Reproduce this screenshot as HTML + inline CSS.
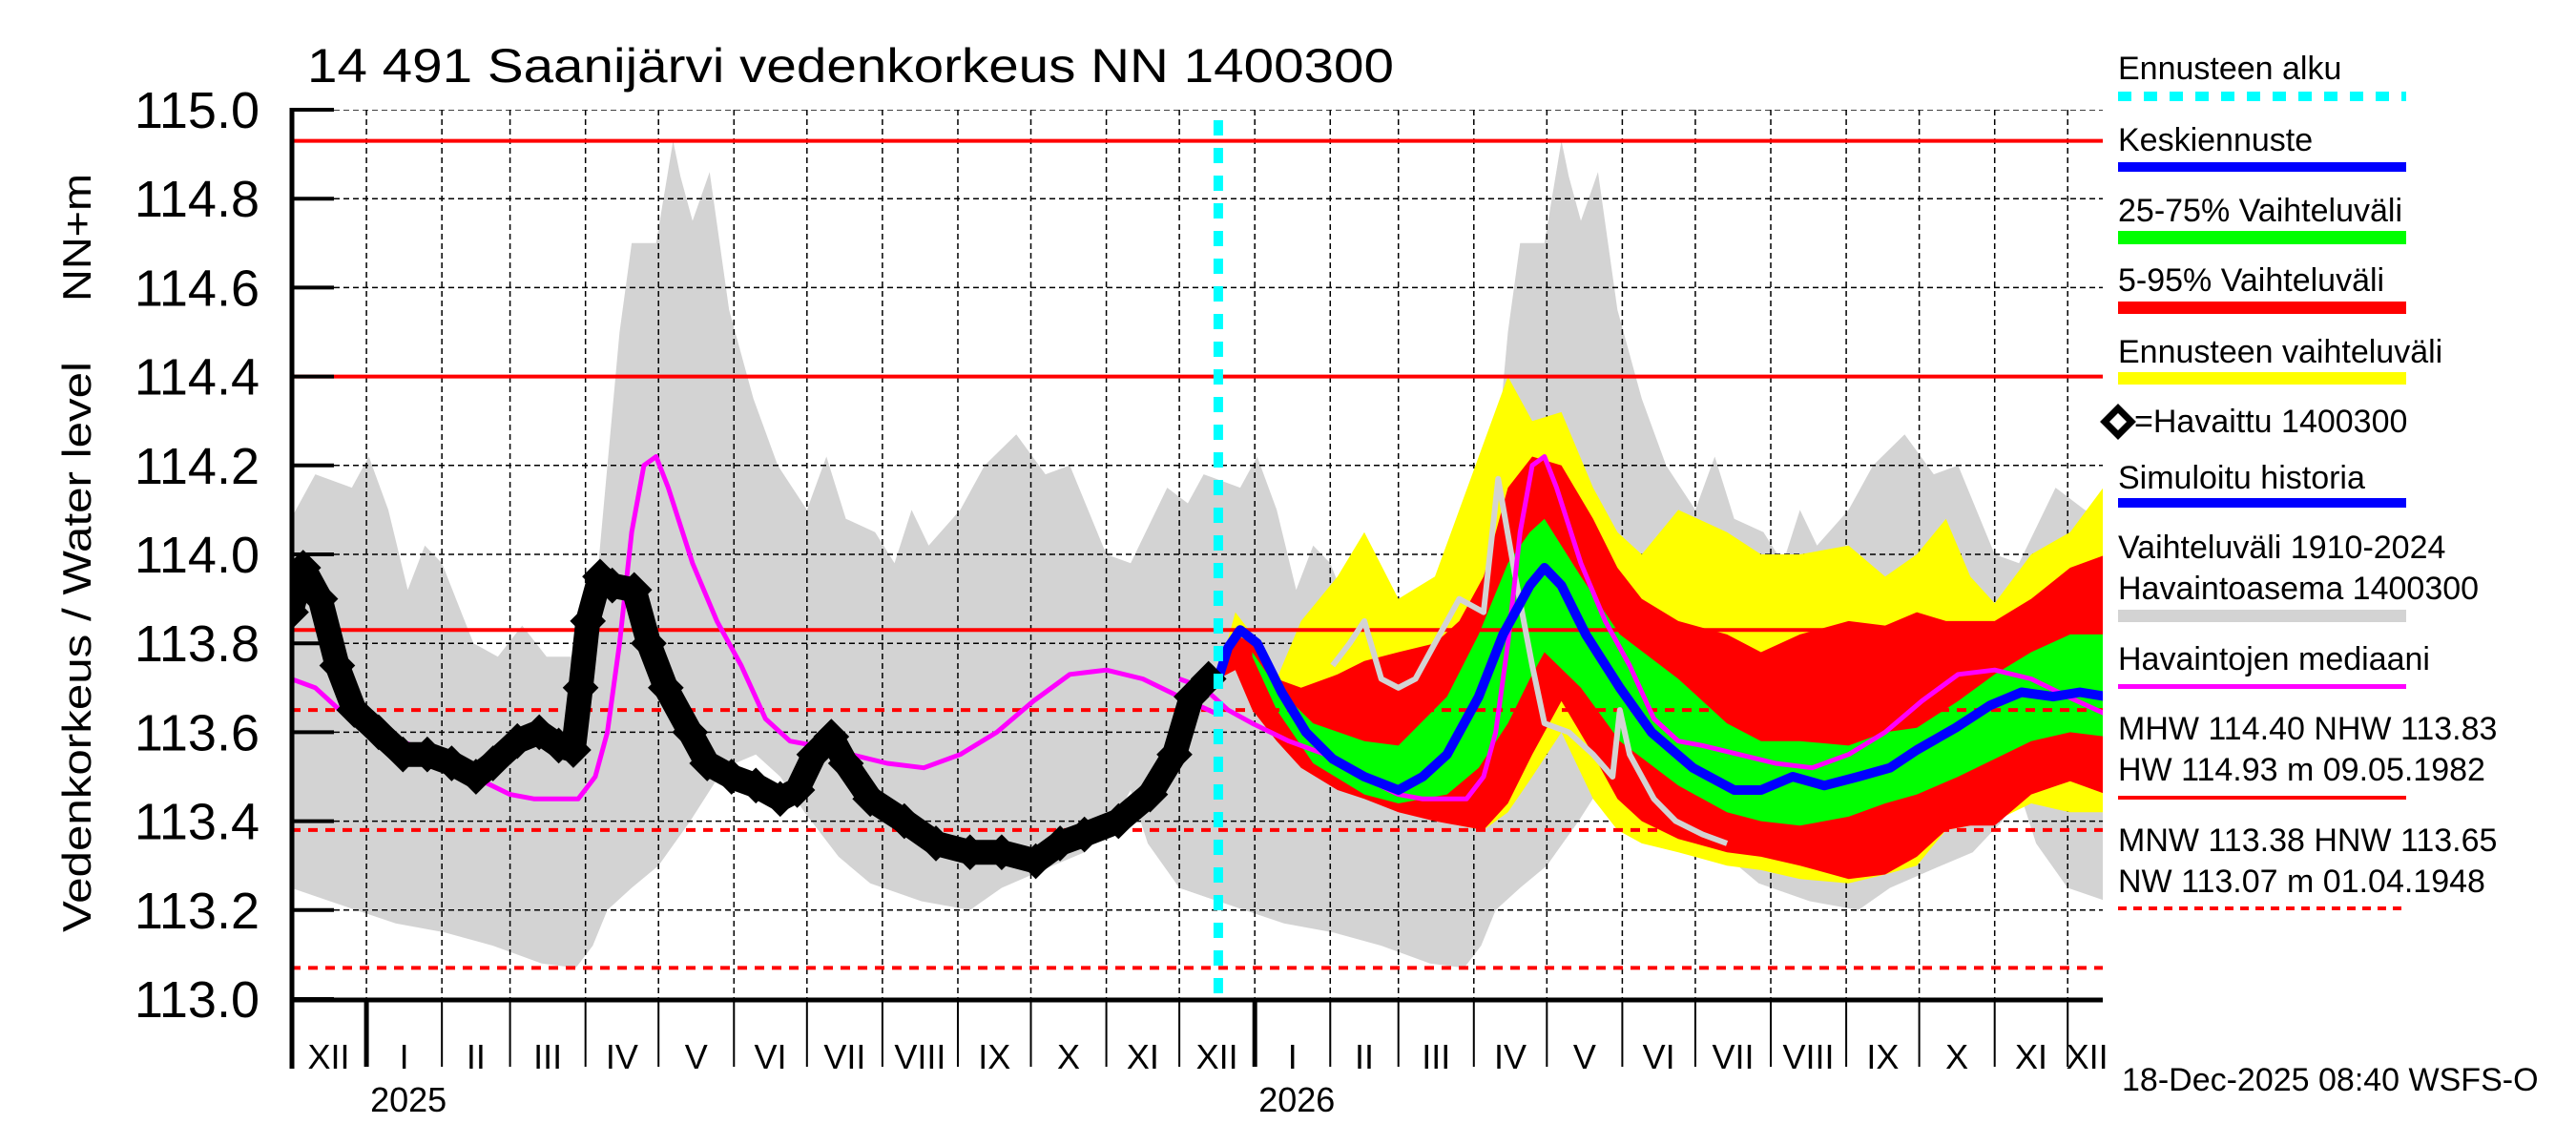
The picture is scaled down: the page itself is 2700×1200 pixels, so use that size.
<!DOCTYPE html>
<html><head><meta charset="utf-8"><title>Saanijärvi vedenkorkeus</title>
<style>html,body{margin:0;padding:0;background:#fff}svg{display:block}text{font-family:"Liberation Sans",sans-serif;fill:#000}</style>
</head><body>
<svg id="chart" xmlns="http://www.w3.org/2000/svg" width="2700" height="1200" viewBox="0 0 2700 1200">
<defs><clipPath id="plotclip"><rect x="305" y="115" width="1899" height="933"/></clipPath></defs>
<g id="plot" clip-path="url(#plotclip)"></g>
<g id="axes"></g>
<text x="322" y="86" font-size="50" textLength="1139" lengthAdjust="spacingAndGlyphs">14 491 Saanijärvi vedenkorkeus NN 1400300</text>
<text transform="translate(95,678) rotate(-90)" text-anchor="middle" font-size="42" textLength="598" lengthAdjust="spacingAndGlyphs">Vedenkorkeus / Water level</text>
<text transform="translate(95,249) rotate(-90)" text-anchor="middle" font-size="42" textLength="134" lengthAdjust="spacingAndGlyphs">NN+m</text>
<g font-size="34">
<text x="2220" y="83">Ennusteen alku</text>
<line x1="2220" y1="101" x2="2522" y2="101" stroke="#00ffff" stroke-width="10" stroke-dasharray="14,13"/>
<text x="2220" y="158">Keskiennuste</text>
<rect x="2220" y="170" width="302" height="10" fill="#0000ff"/>
<text x="2220" y="232">25-75% Vaihteluväli</text>
<rect x="2220" y="242" width="302" height="14" fill="#00ff00"/>
<text x="2220" y="305">5-95% Vaihteluväli</text>
<rect x="2220" y="316" width="302" height="13" fill="#ff0000"/>
<text x="2220" y="380">Ennusteen vaihteluväli</text>
<rect x="2220" y="390" width="302" height="13" fill="#ffff00"/>
<path d="M2220 428 L2234 442 L2220 456 L2206 442 Z" fill="#fff" stroke="#000" stroke-width="7"/>
<text x="2237" y="453">=Havaittu 1400300</text>
<text x="2220" y="512">Simuloitu historia</text>
<rect x="2220" y="522" width="302" height="10" fill="#0000ff"/>
<text x="2220" y="585">Vaihteluväli 1910-2024</text>
<text x="2220" y="628">Havaintoasema 1400300</text>
<rect x="2220" y="639" width="302" height="13" fill="#d3d3d3"/>
<text x="2220" y="702">Havaintojen mediaani</text>
<rect x="2220" y="717" width="302" height="5" fill="#ff00ff"/>
<text x="2220" y="775">MHW 114.40 NHW 113.83</text>
<text x="2220" y="818">HW 114.93 m 09.05.1982</text>
<rect x="2220" y="834" width="302" height="4" fill="#ff0000"/>
<text x="2220" y="892">MNW 113.38 HNW 113.65</text>
<text x="2220" y="935">NW 113.07 m 01.04.1948</text>
<line x1="2220" y1="952" x2="2522" y2="952" stroke="#ff0000" stroke-width="4" stroke-dasharray="9,7"/>
</g>
<text x="2224" y="1143" font-size="34">18-Dec-2025 08:40 WSFS-O</text>
</svg>
<script>
// climatology (days from 1 Dec, repeated each year)
const climMaxDays=[0,10,25,32,40,48,55,62,75,85,95,105,115,125,135,140,150,157,160,165,172,180,190,200,212,220,228,240,248,255,262,275,285,298,310,320,335,345,360,372,381];
const climMax=[114.08,114.18,114.15,114.22,114.1,113.92,114.02,113.98,113.8,113.77,113.84,113.77,113.77,113.9,114.5,114.7,114.7,114.93,114.85,114.75,114.86,114.55,114.35,114.2,114.1,114.22,114.08,114.05,113.98,114.1,114.02,114.1,114.2,114.27,114.18,114.2,114.0,113.98,114.15,114.1,114.08];
const climMinDays=[0,16,43,63,83,103,117,124,130,140,151,164,178,191,201,211,225,238,259,279,292,313,326,338,345,352,365,381];
const climMin=[113.25,113.22,113.17,113.15,113.12,113.08,113.07,113.12,113.2,113.25,113.3,113.4,113.52,113.55,113.5,113.42,113.32,113.26,113.22,113.2,113.25,113.3,113.33,113.4,113.47,113.35,113.25,113.22];
const medDays=[0,10,20,30,45,60,75,90,100,110,118,125,130,135,140,145,150,155,165,175,185,195,205,215,230,245,260,275,290,305,320,335,350,365,381];
const medVals=[113.72,113.7,113.65,113.62,113.58,113.55,113.5,113.46,113.45,113.45,113.45,113.5,113.6,113.8,114.05,114.2,114.22,114.15,113.98,113.85,113.75,113.63,113.58,113.57,113.55,113.53,113.52,113.55,113.6,113.67,113.73,113.74,113.72,113.68,113.64];
const yearOffsets=[0,365];
// observed
const obsDays=[0,5,12,19,26,36,46,56,66,76,83,93,102,110,116,119,122,127,132,141,147,154,164,171,181,191,201,208,215,222,228,238,252,265,279,292,306,316,326,340,353,363,370,377];
const obsVals=[113.87,113.97,113.9,113.75,113.65,113.6,113.55,113.55,113.53,113.5,113.53,113.58,113.6,113.57,113.56,113.7,113.85,113.95,113.93,113.92,113.8,113.7,113.6,113.53,113.5,113.48,113.45,113.47,113.55,113.59,113.53,113.45,113.4,113.35,113.33,113.33,113.31,113.35,113.37,113.4,113.46,113.55,113.68,113.72];
// forecast bands
const bandDays=[381,388,395,405,415,430,441,455,470,480,490,500,510,522,535,545,555,570,590,604,620,640,655,668,680,690,700,715,731,746];
const yelHi=[113.73,113.87,113.82,113.72,113.85,113.95,114.05,113.9,113.95,114.1,114.25,114.4,114.3,114.32,114.15,114.05,114.0,114.1,114.05,114.0,114.0,114.02,113.95,114.0,114.08,113.95,113.89,114.0,114.05,114.16];
const yelLo=[113.72,113.75,113.65,113.6,113.52,113.48,113.46,113.43,113.41,113.39,113.38,113.42,113.5,113.6,113.45,113.38,113.35,113.33,113.3,113.29,113.27,113.26,113.28,113.3,113.38,113.39,113.4,113.44,113.42,113.42];
const redHi=[113.73,113.82,113.8,113.72,113.7,113.73,113.76,113.78,113.8,113.85,113.95,114.15,114.22,114.2,114.08,113.97,113.9,113.85,113.82,113.78,113.82,113.85,113.84,113.87,113.85,113.85,113.85,113.9,113.97,114.0];
const redLo=[113.72,113.74,113.65,113.58,113.52,113.47,113.45,113.42,113.4,113.39,113.38,113.44,113.55,113.67,113.55,113.45,113.4,113.36,113.33,113.32,113.3,113.27,113.28,113.32,113.38,113.39,113.39,113.46,113.49,113.46];
const grnDays=[395,405,420,441,455,475,488,500,509,515,530,546,570,590,604,620,640,655,668,685,700,715,731,746];
const grnHi=[113.78,113.7,113.62,113.58,113.57,113.68,113.82,113.98,114.05,114.08,113.95,113.82,113.72,113.62,113.58,113.58,113.57,113.6,113.61,113.67,113.73,113.78,113.82,113.82];
const grnLo=[113.77,113.65,113.53,113.46,113.44,113.46,113.52,113.62,113.72,113.78,113.7,113.58,113.48,113.42,113.4,113.39,113.41,113.44,113.46,113.5,113.54,113.58,113.6,113.59];
const fcDays=[381,385,390,397,407,417,428,441,455,465,475,488,498,509,515,522,532,546,559,576,593,604,617,630,644,657,668,684,698,711,724,735,746];
const fcVals=[113.72,113.79,113.83,113.8,113.69,113.6,113.54,113.5,113.47,113.5,113.55,113.68,113.82,113.93,113.97,113.93,113.82,113.7,113.6,113.52,113.47,113.47,113.5,113.48,113.5,113.52,113.56,113.61,113.66,113.69,113.68,113.69,113.68];
const simDays=[428,435,441,448,455,462,468,480,490,496,503,510,515,525,535,543,546,550,560,569,580,590];
const simVals=[113.75,113.8,113.85,113.72,113.7,113.72,113.78,113.9,113.87,114.17,113.95,113.75,113.62,113.6,113.55,113.5,113.65,113.55,113.45,113.4,113.37,113.35];
const yTicks=[113.0,113.2,113.4,113.6,113.8,114.0,114.2,114.4,114.6,114.8,115.0];
const refSolid=[114.93,114.40,113.83];
const refDashed=[113.65,113.38,113.07];
const monthStarts=[0,31,62,90,121,151,182,212,243,274,304,335,365,396,427,455,486,516,547,577,608,639,669,700,730,746];
const monthLabels=["XII","I","II","III","IV","V","VI","VII","VIII","IX","X","XI","XII","I","II","III","IV","V","VI","VII","VIII","IX","X","XI","XII"];
const yearStarts=[31,396];
const yearLabels=["2025","2026"];
const forecastStart=381;

const NS="http://www.w3.org/2000/svg";
const X=d=>305+d*2.551;
const Y=v=>115+(115-v)*466;
const plot=document.getElementById('plot');
const axes=document.getElementById('axes');
function mk(tag,attrs,parent){const e=document.createElementNS(NS,tag);for(const k in attrs)e.setAttribute(k,attrs[k]);parent.appendChild(e);return e;}
function pts(days,vals,off){return days.map((d,i)=>X(d+off).toFixed(1)+","+Y(vals[i]).toFixed(1));}
function band(dh,hi,dl,lo,off,color,name){
  const p=pts(dh,hi,off).concat(pts(dl,lo,off).reverse());
  const e=mk('polygon',{points:p.join(' '),fill:color},plot);
  
  
}
function line(days,vals,off,color,w,name){
  const e=mk('polyline',{points:pts(days,vals,off).join(' '),fill:'none',stroke:color,'stroke-width':w,'stroke-linejoin':'round'},plot);
  
  
}
yearOffsets.forEach(o=>band(climMaxDays,climMax,climMinDays,climMin,o,'#d3d3d3','historical-range-band'));
// grid
const grid=mk('g',{stroke:'#000','stroke-width':1.5,'stroke-dasharray':'6,4'},plot);


yTicks.forEach(v=>{if(v>113.0)mk('line',{x1:350,x2:2204,y1:Y(v),y2:Y(v)},grid);});
monthStarts.forEach(d=>{if(d>0)mk('line',{x1:X(d),x2:X(d),y1:115,y2:1048},grid);});
band(bandDays,yelHi,bandDays,yelLo,0,'#ffff00','forecast-range-band');
band(bandDays,redHi,bandDays,redLo,0,'#ff0000','band-5-95');
band(grnDays,grnHi,grnDays,grnLo,0,'#00ff00','band-25-75');
refSolid.forEach(v=>{const e=mk('line',{x1:305,x2:2204,y1:Y(v),y2:Y(v),stroke:'#ff0000','stroke-width':4},plot);});
refDashed.forEach(v=>{const e=mk('line',{x1:305,x2:2204,y1:Y(v),y2:Y(v),stroke:'#ff0000','stroke-width':4,'stroke-dasharray':'10,8'},plot);});
line(simDays,simVals,0,'#d3d3d3',6,'simulated-trace');
yearOffsets.forEach(o=>line(medDays,medVals,o,'#ff00ff',5,'median-line'));
line(fcDays,fcVals,0,'#0000ff',10,'mean-forecast-line');
line(obsDays,obsVals,0,'#000',26,'observed-line');
obsDays.forEach((d,i)=>{const cx=X(d),cy=Y(obsVals[i]);const e=mk('path',{d:`M${cx} ${cy-16} L${cx+16} ${cy} L${cx} ${cy+16} L${cx-16} ${cy} Z`,fill:'#000',stroke:'#000','stroke-width':4},plot);});
const cy=mk('line',{x1:X(forecastStart),x2:X(forecastStart),y1:126,y2:1048,stroke:'#00ffff','stroke-width':10,'stroke-dasharray':'16,13'},plot);


// axes
mk('line',{x1:306,x2:306,y1:113,y2:1120,stroke:'#000','stroke-width':5},axes);
mk('line',{x1:304,x2:2204,y1:1048,y2:1048,stroke:'#000','stroke-width':5},axes);
yTicks.forEach(v=>{
  mk('line',{x1:306,x2:350,y1:Y(v),y2:Y(v),stroke:'#000','stroke-width':4},axes);
  const t=mk('text',{x:272,y:Y(v)+19,'text-anchor':'end','font-size':54},axes);
  t.textContent=v.toFixed(1);
  
  
});
monthStarts.forEach(d=>{if(d<746)mk('line',{x1:X(d),x2:X(d),y1:1048,y2:1118,stroke:'#000','stroke-width':yearStarts.includes(d)?5:2},axes);});
monthLabels.forEach((m,i)=>{
  const c=(X(monthStarts[i])+X(monthStarts[i+1]))/2;
  const t=mk('text',{x:c,y:1120,'text-anchor':'middle','font-size':36},axes);
  t.textContent=m;
  
  
});
yearLabels.forEach((y,i)=>{
  const t=mk('text',{x:X(yearStarts[i])+4,y:1165,'font-size':36},axes);
  t.textContent=y;
  
  
});
</script>
</body></html>
